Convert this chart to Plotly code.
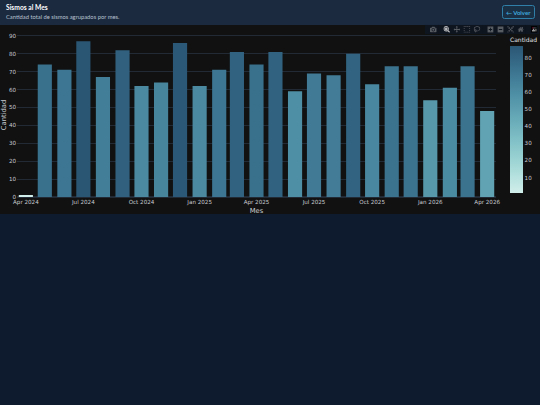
import plotly.graph_objects as go

months = ['2024-04-01', '2024-05-01', '2024-06-01', '2024-07-01', '2024-08-01', '2024-09-01',
          '2024-10-01', '2024-11-01', '2024-12-01', '2025-01-01', '2025-02-01', '2025-03-01',
          '2025-04-01', '2025-05-01', '2025-06-01', '2025-07-01', '2025-08-01', '2025-09-01',
          '2025-10-01', '2025-11-01', '2025-12-01', '2026-01-01', '2026-02-01', '2026-03-01',
          '2026-04-01']
counts = [1, 74, 71, 87, 67, 82, 62, 64, 86, 62, 71, 81, 74, 81, 59, 69, 68, 80, 63, 73, 73, 54, 61, 73, 48]

W, H = 540, 405
L, R, T, B = 17, 44, 33, 208
TICK_COLOR = '#c9ccd1'


# page chrome is positioned in pixels, converted to paper coordinates
def px(x):
    return (x - L) / (W - L - R)


def py(y):
    return 1 - (y - T) / (H - T - B)


def rect(x0, y0, x1, y1, **kw):
    return dict(type='rect', xref='paper', yref='paper', layer='below',
                x0=px(x0), x1=px(x1), y0=py(y1), y1=py(y0), **kw)


def rounded(x0, y0, x1, y1, r, **kw):
    path = (f'M {px(x0 + r)} {py(y0)} L {px(x1 - r)} {py(y0)} Q {px(x1)} {py(y0)} {px(x1)} {py(y0 + r)} '
            f'L {px(x1)} {py(y1 - r)} Q {px(x1)} {py(y1)} {px(x1 - r)} {py(y1)} '
            f'L {px(x0 + r)} {py(y1)} Q {px(x0)} {py(y1)} {px(x0)} {py(y1 - r)} '
            f'L {px(x0)} {py(y0 + r)} Q {px(x0)} {py(y0)} {px(x0 + r)} {py(y0)} Z')
    return dict(type='path', xref='paper', yref='paper', layer='below', path=path, **kw)


def label(x, y, text, size, color, anchor='left'):
    return dict(xref='paper', yref='paper', x=px(x), y=py(y), text=text, showarrow=False,
                xanchor=anchor, yanchor='middle', font=dict(family='Lato', size=size, color=color))


fig = go.Figure(go.Bar(
    x=months,
    y=counts,
    marker=dict(
        color=counts,
        colorscale='Teal',
        line=dict(width=0),
        colorbar=dict(title=dict(text='Cantidad', font=dict(size=6, color='#e4e6ea')),
                      thickness=13, len=159, lenmode='pixels', x=px(510), xanchor='left',
                      y=py(193), yanchor='bottom', outlinewidth=0, xpad=0, ypad=0,
                      tickfont=dict(size=5.6, color=TICK_COLOR), tick0=10, dtick=10,
                      ticklen=0),
    ),
))

fig.update_layout(
    template='plotly_dark',
    width=W,
    height=H,
    margin=dict(l=L, r=R, t=T, b=B, autoexpand=False),
    paper_bgcolor='#0e1a2e',
    plot_bgcolor='rgb(17,17,17)',
    font=dict(family='DejaVu Sans', size=5.6, color=TICK_COLOR),
    xaxis=dict(title=dict(text='Mes', font=dict(size=6.8), standoff=3), dtick='M3',
               tickformat='%b %Y', tickfont=dict(size=5.6), automargin=False, ticklen=0,
               gridcolor='#222a36', showgrid=False, zeroline=False),
    yaxis=dict(title=dict(text='Cantidad', font=dict(size=6.8), standoff=2), dtick=10,
               tickfont=dict(size=5.6), automargin=False,
               gridcolor='#222a36', zerolinecolor='#222a36'),
    shapes=[
        rect(0, 0, W, 25, fillcolor='#1b2a3f', line_width=0),
        rect(0, 25, W, 214, fillcolor='rgb(17,17,17)', line_width=0),
        rounded(502.5, 5.5, 534.5, 18.5, 2, fillcolor='#1a3045', line=dict(color='#2f7fa8', width=1)),
    ],
    annotations=[
        label(3.5, 7.5, '<b>Sismos al Mes</b>', 6.7, '#ffffff'),
        label(3.5, 16.5, 'Cantidad total de sismos agrupados por mes.', 5.8, '#b8c2cf'),
        label(518.5, 12, '<b>← Volver</b>', 6, '#3fa9dc', anchor='center'),
    ],
)

page_js = """
document.body.style.margin = '0';
document.body.style.background = '#0e1a2e';
var bar = document.querySelector('.modebar-container');
if (bar) {
    bar.style.top = '24px';
    bar.style.transformOrigin = 'top right';
    bar.style.transform = 'scale(0.42)';
}
"""

fig.write_html('out.html', config=dict(displayModeBar=True), post_script=page_js)
